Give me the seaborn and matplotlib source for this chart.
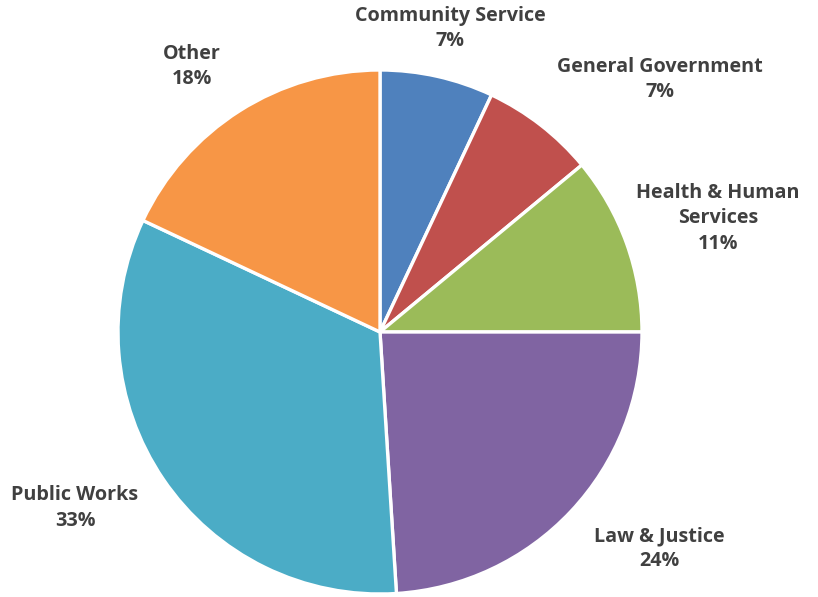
import matplotlib
matplotlib.use("Agg")
import matplotlib.pyplot as plt
import seaborn as sns
import numpy as np

sns.set_theme(style="white")
plt.rcParams["font.family"] = ["Open Sans", "DejaVu Sans"]

# Expenditure share by department
categories = ["Community Service", "General Government", "Health & Human\nServices",
              "Law & Justice", "Public Works", "Other"]
shares = [7, 7, 11, 24, 33, 18]
colors = ["#4F81BD", "#C0504D", "#9BBB59", "#8064A2", "#4BACC6", "#F79646"]

# label placement: (radius, angle clockwise from 12 o'clock in degrees)
label_polar = [(1.19, 13), (1.44, 48), (1.36, 71.4), (1.35, 127.8), (1.344, 240), (1.243, 324.7)]

W, H, R = 818, 597, 262.0
cx, cy = 380, 332
fig = plt.figure(figsize=(W / 100, H / 100), dpi=100)
ax = fig.add_axes([0, 0, 1, 1])

wedges, _ = ax.pie(shares, colors=colors, startangle=90, counterclock=False,
                   wedgeprops=dict(edgecolor="white", linewidth=2.4), radius=1.0)

for cat, val, (r, a) in zip(categories, shares, label_polar):
    th = np.deg2rad(a)
    x, y = r * np.sin(th), r * np.cos(th)
    ax.text(x, y, f"{cat}\n{val}%", ha="center", va="center", fontsize=14.2,
            fontweight="bold", color="#404040", linespacing=1.35)

ax.set_xlim(-cx / R, (W - cx) / R)
ax.set_ylim(-(H - cy) / R, cy / R)
ax.set_aspect("equal")
ax.axis("off")
fig.savefig("out.png", dpi=100, facecolor="white")
